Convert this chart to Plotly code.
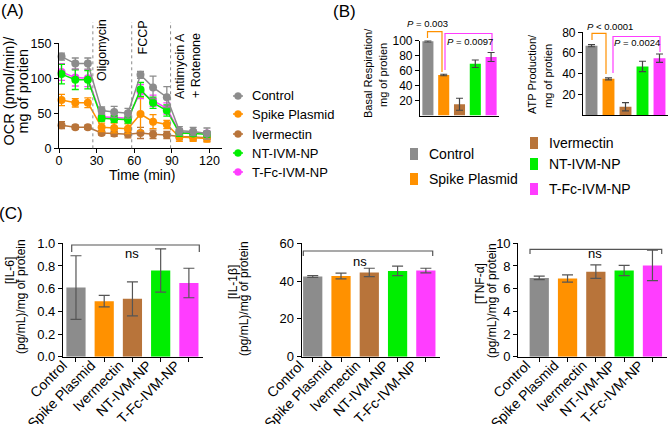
import plotly.graph_objects as go

W, H = 672, 424
FONT = "Arial, 'Liberation Sans', sans-serif"

def px(x):
    return x / W

def py(y):
    return 1 - y / H

def xd(a, b):
    return [a / W, b / W]

def yd(top, bottom):
    return [1 - bottom / H, 1 - top / H]

# ---------------- data ----------------
groups = ["Control", "Spike Plasmid", "Ivermectin", "NT-IVM-NP", "T-Fc-IVM-NP"]
colors = ["#8c8c8c", "#ff9100", "#b8743a", "#00ee00", "#ff3dff"]

time_min = [2, 13, 23, 34, 44, 55, 65, 75, 86, 96, 107, 118]
ocr_control = [131, 121, 121, 54, 52, 50, 105, 87, 73, 25, 24, 21]
ocr_control_err = [5, 8, 8, 5, 8, 7, 5, 16, 15, 6, 6, 8]
ocr_spike = [69, 65, 65, 30, 29, 28, 49, 38, 34, 16, 15, 14]
ocr_spike_err = [8, 6, 7, 6, 7, 7, 24, 10, 6, 6, 5, 5]
ocr_ivm = [33, 30, 30, 22, 21, 20, 22, 20, 19, 17, 16, 15]
ocr_ivm_err = [5, 3, 3, 3, 4, 5, 8, 6, 5, 5, 5, 5]
ocr_nt = [106, 98, 98, 43, 42, 41, 84, 65, 54, 22, 21, 20]
ocr_nt_err = [14, 14, 13, 4, 5, 5, 10, 8, 8, 5, 4, 4]
ocr_tfc = [109, 101, 100, 45, 44, 43, 81, 68, 57, 23, 22, 21]
ocr_tfc_err = [12, 12, 12, 4, 5, 5, 10, 8, 8, 5, 4, 4]

injection_times = [27, 58, 89]
time_ticks = [0, 30, 60, 90, 120]
ocr_ticks = [0, 50, 100, 150]

basal = [99, 54, 15, 69, 78]
basal_err = [1, 1, 8, 5, 6]
atp = [67, 35, 8, 47, 55]
atp_err = [1, 1, 4, 5, 4]
basal_ticks = [20, 40, 60, 80, 100]
atp_ticks = [20, 40, 60, 80]

il6 = [0.61, 0.49, 0.51, 0.76, 0.65]
il6_err = [0.28, 0.05, 0.15, 0.19, 0.13]
il1b = [42.4, 42.7, 44.6, 45.4, 45.6]
il1b_err = [0.5, 1.5, 2.2, 2.5, 1.2]
tnf = [6.95, 6.9, 7.5, 7.6, 8.05]
tnf_err = [0.15, 0.32, 0.6, 0.45, 1.35]
il6_ticks = [0.0, 0.2, 0.4, 0.6, 0.8, 1.0]
il1b_ticks = [0, 20, 40, 60]
tnf_ticks = [0, 2, 4, 6, 8, 10]

fig = go.Figure()

# ---------------- Panel A ----------------
series = [
    (ocr_ivm, ocr_ivm_err, 2),
    (ocr_spike, ocr_spike_err, 1),
    (ocr_tfc, ocr_tfc_err, 4),
    (ocr_nt, ocr_nt_err, 3),
    (ocr_control, ocr_control_err, 0),
]
for vals, errs, gi in series:
    fig.add_trace(go.Scatter(
        x=time_min, y=vals, mode="lines+markers", name=groups[gi],
        line=dict(color=colors[gi], width=1.5),
        marker=dict(color=colors[gi], size=8),
        error_y=dict(type="data", array=errs, color=colors[gi], thickness=1.3, width=3.5),
        xaxis="x", yaxis="y", showlegend=False, cliponaxis=False,
    ))

# ---------------- Panel B ----------------
cat = list(range(len(groups)))
fig.add_trace(go.Bar(
    x=cat, y=basal, marker=dict(color=colors, line=dict(width=0)), width=0.7,
    error_y=dict(type="data", array=basal_err, color="#444", thickness=1.2, width=3.5),
    xaxis="x2", yaxis="y2", showlegend=False,
))
fig.add_trace(go.Bar(
    x=cat, y=atp, marker=dict(color=colors, line=dict(width=0)), width=0.7,
    error_y=dict(type="data", array=atp_err, color="#444", thickness=1.2, width=3.5),
    xaxis="x3", yaxis="y3", showlegend=False,
))

# ---------------- Panel C ----------------
for vals, errs, xa, ya in [(il6, il6_err, "x4", "y4"), (il1b, il1b_err, "x5", "y5"), (tnf, tnf_err, "x6", "y6")]:
    fig.add_trace(go.Bar(
        x=cat, y=vals, marker=dict(color=colors, line=dict(width=0)), width=0.68,
        error_y=dict(type="data", array=errs, color="#555", thickness=1.2, width=5.5),
        xaxis=xa, yaxis=ya, showlegend=False,
    ))

axis_style = dict(showline=True, linecolor="black", linewidth=1.2, ticks="outside",
                  ticklen=4, tickwidth=1.2, tickcolor="black", showgrid=False,
                  zeroline=False, fixedrange=True, automargin=False)

layout = dict(
    width=W, height=H, margin=dict(l=0, r=0, t=0, b=0, pad=0, autoexpand=False),
    paper_bgcolor="white", plot_bgcolor="white",
    font=dict(family=FONT, color="black"),
    showlegend=False, bargap=0.3,
)

# A
layout["xaxis"] = dict(axis_style, domain=xd(59, 222), range=[0, 130], anchor="y",
                       tickvals=time_ticks, tickfont=dict(size=12.5), ticklabelstandoff=-3)
layout["yaxis"] = dict(axis_style, domain=yd(43.3, 148.3), range=[0, 150], anchor="x",
                       tickvals=ocr_ticks, tickfont=dict(size=12.5))
# B
layout["xaxis2"] = dict(axis_style, domain=xd(420, 499), range=[-0.5, 4.5], anchor="y2",
                        ticks="", showticklabels=False)
layout["yaxis2"] = dict(axis_style, domain=yd(40.5, 115.5), range=[0, 100], anchor="x2",
                        tickvals=basal_ticks, tickfont=dict(size=12))
layout["xaxis3"] = dict(axis_style, domain=xd(583, 668), range=[-0.5, 4.5], anchor="y3",
                        ticks="", showticklabels=False)
layout["yaxis3"] = dict(axis_style, domain=yd(32.3, 115), range=[0, 80], anchor="x3",
                        tickvals=atp_ticks, tickfont=dict(size=12))
# C
c_dom = yd(243.3, 356.7)
for i, (dom, rng, ticks, fmt) in enumerate([
        (xd(63, 203), [-0.46, 4.5], il6_ticks, ".1f"),
        (xd(301.7, 440), [-0.39, 4.5], il1b_ticks, "d"),
        (xd(518.3, 666.6), [-0.74, 4.5], tnf_ticks, "d")]):
    n = i + 4
    layout[f"xaxis{n}"] = dict(axis_style, domain=dom, range=rng, anchor=f"y{n}",
                               tickvals=cat, ticktext=groups, tickangle=-45,
                               tickfont=dict(size=14), ticklabelshift=-13,
                               ticklabelstandoff=-10)
    layout[f"yaxis{n}"] = dict(axis_style, domain=c_dom, range=[0, ticks[-1]], anchor=f"x{n}",
                               tickvals=ticks, tickformat=fmt, tickfont=dict(size=13))

anns = []
def ann(text, x, y, size, angle=0, xanchor="center", yanchor="middle"):
    anns.append(dict(text=text, x=px(x), y=py(y), xref="paper", yref="paper",
                     showarrow=False, font=dict(size=size, family=FONT, color="black"),
                     textangle=angle, xanchor=xanchor, yanchor=yanchor))

# panel labels
ann("(A)", 12, 11, 17)
ann("(B)", 345, 12, 17)
ann("(C)", 11, 213, 17)

# A texts
ann("OCR (pmol/min)/", 8.5, 91, 14.5, angle=-90)
ann("mg of protien", 22.5, 91, 14.5, angle=-90)
ann("Time (min)", 142, 175, 14)
ann("Oligomycin", 102, 50, 12.5, angle=-90)
ann("FCCP", 142.5, 38, 12.5, angle=-90)
ann("Antimycin A", 180, 66, 12.5, angle=-90)
ann("+ Rotenone", 196, 66, 12.5, angle=-90)

shapes = []
for t in injection_times:
    shapes.append(dict(type="line", xref="x", yref="paper", x0=t, x1=t,
                       y0=py(148.3), y1=py(22), line=dict(color="#8a8a8a", width=1, dash="dot")))

# A legend
leg_y = [96, 114, 134, 153, 172]
for gi, yy in enumerate(leg_y):
    shapes.append(dict(type="line", xref="paper", yref="paper", x0=px(233), x1=px(243),
                       y0=py(yy), y1=py(yy), line=dict(color=colors[gi], width=1.5)))
    shapes.append(dict(type="circle", xref="paper", yref="paper", x0=px(234.5), x1=px(241.5),
                       y0=py(yy + 3.5), y1=py(yy - 3.5), fillcolor=colors[gi],
                       line=dict(color=colors[gi], width=0.5)))
    ann(groups[gi], 250, yy, 13, xanchor="left")

# B titles
ann("Basal Respiration/", 368, 73, 11, angle=-90)
ann("mg of protien", 383, 75, 11, angle=-90)
ann("ATP Production/", 532, 74, 11, angle=-90)
ann("mg of protien", 548, 76, 11, angle=-90)

# B legend
b_leg = [(0, 410, 154), (1, 410, 179), (2, 530, 143), (3, 530, 164), (4, 530, 189)]
for gi, xx, yy in b_leg:
    shapes.append(dict(type="rect", xref="paper", yref="paper", x0=px(xx), x1=px(xx + 8),
                       y0=py(yy + 6), y1=py(yy - 6), fillcolor=colors[gi], line=dict(width=0)))
    ann(groups[gi], xx + 17, yy, 14, xanchor="left")

def bracket(pts, color, width=1.2):
    path = "M " + " L ".join(f"{px(a)},{py(b)}" for a, b in pts)
    shapes.append(dict(type="path", xref="paper", yref="paper", path=path,
                       line=dict(color=color, width=width)))

# B brackets & p-values
bracket([(427.5, 38), (427.5, 31.7), (442, 31.7), (442, 72)], "#ff9100")
bracket([(445, 70), (445, 33.5), (492, 33.5), (492, 51)], "#ff3dff")
ann("<i>P</i> = 0.003", 427, 24, 9.5)
ann("<i>P</i> = 0.0097", 469.5, 41, 9.5)
bracket([(592, 40), (592, 33.3), (606, 33.3), (606, 74)], "#ff9100")
bracket([(613, 73), (613, 36.5), (660, 36.5), (660, 52)], "#ff3dff")
ann("<i>P</i> < 0.0001", 610, 26, 9.5)
ann("<i>P</i> = 0.0024", 637, 43, 9.5)

# C titles
ann("[IL-6]", 10, 271, 12, angle=-90)
ann("(pg/mL)/mg of protein", 21, 297, 12, angle=-90)
ann("[IL-1β]", 233, 282, 12, angle=-90)
ann("(pg/mL)/mg of protein", 244, 299, 12, angle=-90)
ann("[TNF-α]", 480, 284, 12, angle=-90)
ann("(pg/mL)/mg of protein", 492, 300, 12, angle=-90)

# C brackets & ns
bracket([(71.7, 252), (71.7, 245), (199.3, 245), (199.3, 252)], "#555")
ann("ns", 132, 253, 13)
bracket([(303.3, 256), (303.3, 251), (432.7, 251), (432.7, 256)], "#555")
ann("ns", 360, 261, 13)
bracket([(530, 254), (530, 249.3), (661.7, 249.3), (661.7, 254)], "#555")
ann("ns", 595, 253, 13)

layout["annotations"] = anns
layout["shapes"] = shapes
fig.update_layout(**layout)
fig.write_html("out.html", config={"displayModeBar": False},
               post_script="document.body.style.margin='0';document.body.style.overflow='hidden';")
